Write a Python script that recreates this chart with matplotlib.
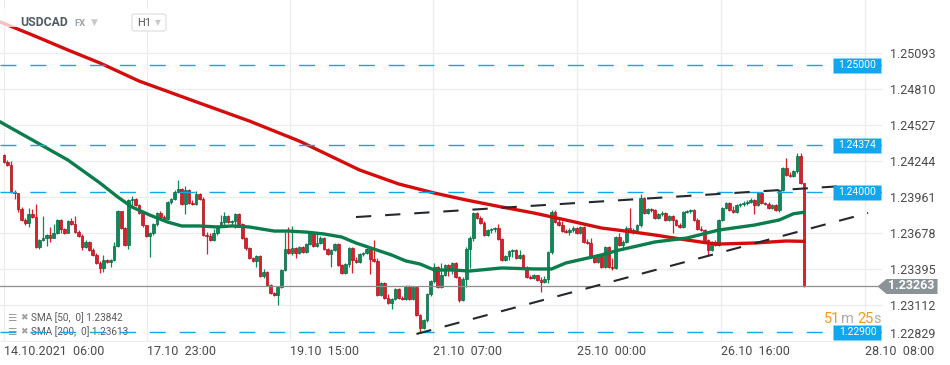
import matplotlib
matplotlib.use("Agg")
import matplotlib.pyplot as plt
from matplotlib.path import Path
import numpy as np

plt.rcParams['font.family'] = ['Roboto', 'DejaVu Sans']
plt.rcParams['lines.scale_dashes'] = False

symbol = "USDCAD"
timeframe = "H1"

# hourly candles, 14.10 06:00 -> 27.10
first_open = 1.24292
closes = [
    1.24237, 1.24213, 1.24001, 1.23993, 1.23867, 1.23781, 1.23757, 1.23828, 1.23804, 1.23569,
    1.23624, 1.23639, 1.23663, 1.23639, 1.23679, 1.23781, 1.23710, 1.23679, 1.23773, 1.23749,
    1.23686, 1.23655, 1.23569, 1.23608, 1.23545, 1.23506, 1.23443, 1.23404, 1.23466, 1.23451,
    1.23466, 1.23576, 1.23852, 1.23718, 1.23584, 1.23938, 1.23946, 1.23899, 1.23836, 1.23741,
    1.23655, 1.23679, 1.23749, 1.23836, 1.23804, 1.23789, 1.23922, 1.23946, 1.24001, 1.24024,
    1.23907, 1.24017, 1.23914, 1.23907, 1.23985, 1.23946, 1.23663, 1.23655, 1.23624, 1.23679,
    1.23734, 1.23765, 1.23812, 1.23765, 1.23773, 1.23828, 1.23749, 1.23639, 1.23561, 1.23482,
    1.23459, 1.23498, 1.23341, 1.23372, 1.23270, 1.23207, 1.23191, 1.23254, 1.23388, 1.23553,
    1.23521, 1.23561, 1.23521, 1.23569, 1.23529, 1.23592, 1.23679, 1.23576, 1.23600, 1.23639,
    1.23553, 1.23514, 1.23545, 1.23592, 1.23427, 1.23364, 1.23435, 1.23561, 1.23466, 1.23451,
    1.23514, 1.23521, 1.23553, 1.23474, 1.23459, 1.23191, 1.23286, 1.23168, 1.23128, 1.23160,
    1.23238, 1.23168, 1.23160, 1.23262, 1.23160, 1.23254, 1.23034, 1.22932, 1.22995, 1.23199,
    1.23301, 1.23411, 1.23254, 1.23349, 1.23427, 1.23388, 1.23443, 1.23333, 1.23152, 1.23317,
    1.23553, 1.23639, 1.23836, 1.23797, 1.23757, 1.23663, 1.23702, 1.23710, 1.23718, 1.23631,
    1.23466, 1.23498, 1.23537, 1.23545, 1.23482, 1.23506, 1.23404, 1.23333, 1.23325, 1.23349,
    1.23309, 1.23293, 1.23317, 1.23529, 1.23844, 1.23765, 1.23741, 1.23694, 1.23686, 1.23702,
    1.23718, 1.23679, 1.23726, 1.23608, 1.23600, 1.23498, 1.23451, 1.23498, 1.23411, 1.23569,
    1.23411, 1.23404, 1.23647, 1.23584, 1.23608, 1.23718, 1.23686, 1.23702, 1.23741, 1.23954,
    1.23836, 1.23867, 1.23859, 1.23797, 1.23828, 1.23836, 1.23781, 1.23812, 1.23781, 1.23741,
    1.23726, 1.23844, 1.23852, 1.23859, 1.23781, 1.23710, 1.23702, 1.23624, 1.23545, 1.23608,
    1.23584, 1.23781, 1.23875, 1.23914, 1.23859, 1.23844, 1.23899, 1.23907, 1.23914, 1.23922,
    1.23938, 1.23899, 1.23993, 1.23914, 1.23907, 1.23875, 1.23899, 1.23859, 1.24017, 1.24189,
    1.24134, 1.24127, 1.24166, 1.24284, 1.24072, 1.23263,
]
highs = [
    1.24300, 1.24252, 1.24245, 1.24017, 1.23993, 1.23883, 1.23797, 1.23875, 1.23867, 1.23907,
    1.23631, 1.23812, 1.23671, 1.23726, 1.23749, 1.23789, 1.23789, 1.23718, 1.23781, 1.23797,
    1.23812, 1.23702, 1.23671, 1.23624, 1.23616, 1.23561, 1.23521, 1.23459, 1.23506, 1.23474,
    1.23474, 1.23608, 1.23859, 1.23852, 1.23726, 1.23946, 1.23969, 1.23954, 1.23907, 1.23844,
    1.23741, 1.23686, 1.23757, 1.23844, 1.23852, 1.23820, 1.23930, 1.23954, 1.24017, 1.24095,
    1.24032, 1.24048, 1.24024, 1.23938, 1.24009, 1.23993, 1.23962, 1.23686, 1.23679, 1.23710,
    1.23741, 1.23820, 1.23844, 1.23820, 1.23781, 1.23836, 1.23836, 1.23757, 1.23647, 1.23565,
    1.23490, 1.23506, 1.23506, 1.23396, 1.23380, 1.23278, 1.23215, 1.23262, 1.23396, 1.23686,
    1.23726, 1.23734, 1.23569, 1.23576, 1.23576, 1.23600, 1.23694, 1.23686, 1.23679, 1.23655,
    1.23647, 1.23561, 1.23553, 1.23600, 1.23600, 1.23435, 1.23443, 1.23569, 1.23569, 1.23490,
    1.23521, 1.23529, 1.23561, 1.23561, 1.23624, 1.23482, 1.23293, 1.23293, 1.23199, 1.23168,
    1.23246, 1.23246, 1.23183, 1.23270, 1.23270, 1.23262, 1.23254, 1.23042, 1.23003, 1.23207,
    1.23309, 1.23443, 1.23419, 1.23443, 1.23435, 1.23435, 1.23451, 1.23451, 1.23341, 1.23333,
    1.23569, 1.23655, 1.23844, 1.23844, 1.23812, 1.23773, 1.23710, 1.23718, 1.23726, 1.23749,
    1.23639, 1.23506, 1.23545, 1.23553, 1.23553, 1.23545, 1.23514, 1.23419, 1.23349, 1.23356,
    1.23349, 1.23333, 1.23341, 1.23537, 1.23859, 1.23859, 1.23789, 1.23773, 1.23710, 1.23718,
    1.23734, 1.23726, 1.23734, 1.23734, 1.23631, 1.23639, 1.23506, 1.23514, 1.23506, 1.23576,
    1.23576, 1.23482, 1.23655, 1.23679, 1.23624, 1.23734, 1.23875, 1.23718, 1.23749, 1.23985,
    1.23962, 1.23875, 1.23875, 1.23867, 1.23836, 1.23852, 1.23844, 1.23820, 1.23820, 1.23789,
    1.23757, 1.23852, 1.23859, 1.23867, 1.23867, 1.23797, 1.23734, 1.23710, 1.23631, 1.23616,
    1.23624, 1.23789, 1.23883, 1.23922, 1.23922, 1.23891, 1.23907, 1.23914, 1.23930, 1.23938,
    1.23954, 1.23946, 1.24001, 1.24001, 1.23922, 1.23922, 1.23907, 1.23907, 1.24024, 1.24197,
    1.24268, 1.24158, 1.24174, 1.24307, 1.24307, 1.24072,
]
lows = [
    1.24229, 1.24205, 1.23993, 1.23946, 1.23844, 1.23773, 1.23741, 1.23726, 1.23797, 1.23561,
    1.23553, 1.23616, 1.23576, 1.23608, 1.23639, 1.23671, 1.23679, 1.23671, 1.23679, 1.23741,
    1.23679, 1.23647, 1.23545, 1.23561, 1.23537, 1.23498, 1.23435, 1.23364, 1.23372, 1.23443,
    1.23411, 1.23459, 1.23569, 1.23710, 1.23576, 1.23553, 1.23891, 1.23891, 1.23828, 1.23726,
    1.23647, 1.23490, 1.23663, 1.23734, 1.23797, 1.23781, 1.23781, 1.23907, 1.23938, 1.23993,
    1.23899, 1.23828, 1.23907, 1.23899, 1.23899, 1.23938, 1.23655, 1.23514, 1.23616, 1.23616,
    1.23663, 1.23726, 1.23741, 1.23757, 1.23734, 1.23718, 1.23741, 1.23631, 1.23545, 1.23474,
    1.23451, 1.23411, 1.23333, 1.23325, 1.23262, 1.23199, 1.23183, 1.23113, 1.23246, 1.23380,
    1.23514, 1.23506, 1.23482, 1.23514, 1.23521, 1.23521, 1.23584, 1.23569, 1.23569, 1.23592,
    1.23545, 1.23506, 1.23411, 1.23537, 1.23419, 1.23356, 1.23356, 1.23411, 1.23364, 1.23443,
    1.23443, 1.23498, 1.23514, 1.23356, 1.23451, 1.23183, 1.23183, 1.23160, 1.23121, 1.23081,
    1.23152, 1.23160, 1.23152, 1.23152, 1.23152, 1.23152, 1.23026, 1.22901, 1.22924, 1.22979,
    1.23183, 1.23286, 1.23246, 1.23246, 1.23341, 1.23341, 1.23356, 1.23325, 1.23136, 1.23144,
    1.23254, 1.23404, 1.23616, 1.23789, 1.23749, 1.23655, 1.23655, 1.23679, 1.23686, 1.23624,
    1.23459, 1.23459, 1.23466, 1.23490, 1.23474, 1.23474, 1.23396, 1.23325, 1.23317, 1.23317,
    1.23301, 1.23215, 1.23286, 1.23286, 1.23514, 1.23757, 1.23734, 1.23686, 1.23679, 1.23663,
    1.23686, 1.23671, 1.23671, 1.23600, 1.23592, 1.23490, 1.23443, 1.23443, 1.23404, 1.23404,
    1.23404, 1.23388, 1.23396, 1.23576, 1.23545, 1.23600, 1.23679, 1.23671, 1.23686, 1.23726,
    1.23828, 1.23828, 1.23844, 1.23789, 1.23789, 1.23812, 1.23773, 1.23773, 1.23679, 1.23734,
    1.23718, 1.23718, 1.23836, 1.23836, 1.23773, 1.23702, 1.23694, 1.23616, 1.23498, 1.23537,
    1.23576, 1.23576, 1.23773, 1.23867, 1.23852, 1.23836, 1.23836, 1.23883, 1.23891, 1.23899,
    1.23914, 1.23828, 1.23891, 1.23907, 1.23899, 1.23867, 1.23867, 1.23852, 1.23844, 1.24009,
    1.24127, 1.24119, 1.24119, 1.24150, 1.24064, 1.23254,
]
# each hourly bar opens where the previous one closed
opens = [first_open] + closes[:-1]

# moving averages at a few bar positions
sma50_bar = [-1, 3, 8, 18, 27, 32, 36, 41, 46, 50, 55, 60, 64, 69, 76, 80, 85, 90, 95, 99,
             104, 109, 113, 117, 121, 126, 131, 140, 149, 154, 158, 168, 173, 178, 183, 192,
             201, 211, 218, 222, 225]
sma50 = [1.24551, 1.24488, 1.24410, 1.24252, 1.24072, 1.23962, 1.23883, 1.23820, 1.23765,
         1.23734, 1.23734, 1.23726, 1.23734, 1.23726, 1.23694, 1.23694, 1.23686, 1.23671,
         1.23647, 1.23600, 1.23553, 1.23506, 1.23459, 1.23435, 1.23388, 1.23388, 1.23380,
         1.23404, 1.23396, 1.23396, 1.23443, 1.23506, 1.23545, 1.23576, 1.23608, 1.23639,
         1.23702, 1.23741, 1.23781, 1.23830, 1.23842]
sma200_bar = [-1, 8, 18, 27, 38, 55, 69, 83, 100, 111, 121, 130, 140, 149, 158, 168, 177,
              183, 192, 198, 201, 211, 220, 225]
sma200 = [1.25337, 1.25235, 1.25117, 1.25015, 1.24873, 1.24700, 1.24559, 1.24402, 1.24174,
          1.24064, 1.23993, 1.23938, 1.23883, 1.23836, 1.23781, 1.23718, 1.23686, 1.23663,
          1.23624, 1.23600, 1.23592, 1.23600, 1.23616, 1.23613]

levels = [1.25000, 1.24374, 1.24000, 1.22900]

upper_trend_bar = [99, 236]
upper_trend = [1.23804, 1.24048]
lower_trend_bar = [116, 243]
lower_trend = [1.22885, 1.23836]

ytick_vals = [1.25093, 1.24810, 1.24527, 1.24244, 1.23961, 1.23678, 1.23395, 1.23112, 1.22829]
xtick_pos = [0, 40.2, 80.4, 120.6, 161.1, 201.6, 242.1]
xtick_labels = ["14.10.2021  06:00", "17.10  23:00", "19.10  15:00", "21.10  07:00",
                "25.10  00:00", "26.10  16:00", "28.10  08:00"]

GREEN = '#0b8a58'
RED = '#d81f2a'
BLUE = '#12a6ec'

fig = plt.figure(figsize=(9.5, 3.65), dpi=100)
ax = fig.add_axes([0, 23 / 365, 882 / 950, 342 / 365])
ax.set_xlim(-1.1, 246.9)
ax.set_ylim(1.22822, 1.25510)
for s in ax.spines.values():
    s.set_visible(False)

# grid + axis labels
ax.set_yticks(ytick_vals)
ax.set_yticklabels([f"{v:.5f}" for v in ytick_vals])
ax.yaxis.tick_right()
ax.tick_params(axis='y', length=0, pad=6, labelsize=9, labelcolor='#4a4a4a')
ax.get_yticklabels()[-1].set_va('bottom')
ax.set_xticks(xtick_pos)
ax.set_xticklabels(xtick_labels, ha='left')
ax.tick_params(axis='x', length=0, pad=2, labelsize=9, labelcolor='#4a4a4a')
ax.grid(True, color='#ededed', lw=0.9)
ax.set_axisbelow(True)

# candles
idx = np.arange(len(closes))
o = np.array(opens)
c = np.array(closes)
h = np.array(highs)
l = np.array(lows)
rising = c >= o
body_col = np.where(rising, GREEN, RED)
edge_col = np.where(rising, '#086a43', '#a8121c')
ax.vlines(idx, l, h, colors=body_col, lw=0.9, zorder=2)
ax.bar(idx, np.maximum(np.abs(c - o), 0.00002), bottom=np.minimum(o, c), width=0.75,
       color=body_col, edgecolor=edge_col, linewidth=0.5, zorder=3)

# current price line
ax.axhline(closes[-1], color='#8f8f8f', lw=0.9, zorder=3.5)

# moving averages
ax.plot(sma200_bar, sma200, color='#d40c0c', lw=2.4, zorder=5, solid_joinstyle='round')
ax.plot(sma50_bar, sma50, color='#0b7d4c', lw=2.4, zorder=5, solid_joinstyle='round')

# horizontal levels
for lv in levels:
    ax.axhline(lv, color=BLUE, lw=1.0, ls=(0, (11.5, 10)), zorder=6)

# trend lines
ax.plot(upper_trend_bar, upper_trend, color='#25292d', lw=1.5, ls=(0, (11, 10)), zorder=7)
ax.plot(lower_trend_bar, lower_trend, color='#25292d', lw=1.5, ls=(0, (11, 10)), zorder=7)

# level labels
rect = Path([(-24, -7.5), (24, -7.5), (24, 7.5), (-24, 7.5), (-24, -7.5)], closed=True)
box_x = 240
ax.plot([box_x] * len(levels), levels, ls='none', marker=rect, markersize=48 * 0.72,
        color=BLUE, mec='none', zorder=8, clip_on=False)
for lv in levels:
    ax.text(box_x, lv, f"{lv:.5f}", color='white', fontsize=7.5, ha='center', va='center', zorder=9)

# last price tag
pent = Path([(-30, 0), (-21, 7.5), (30, 7.5), (30, -7.5), (-21, -7.5), (-30, 0)], closed=True)
ax.plot([253.9], [closes[-1]], ls='none', marker=pent, markersize=60 * 0.72,
        color='#8a9398', mec='none', zorder=8, clip_on=False)
ax.text(255.2, closes[-1], f"{closes[-1]:.5f}", color='white', fontsize=9, fontweight='bold',
        ha='center', va='center', zorder=9, clip_on=False)

# candle countdown
ax.text(824 / 882, 1 - 319 / 342, "51", transform=ax.transAxes, color='#f39a1e',
        fontsize=10.5, ha='left', va='center', zorder=9)
ax.text(841 / 882, 1 - 319 / 342, "m", transform=ax.transAxes, color='#ababab',
        fontsize=10.5, ha='left', va='center', zorder=9)
ax.text(857 / 882, 1 - 319 / 342, "25", transform=ax.transAxes, color='#f39a1e',
        fontsize=10.5, ha='left', va='center', zorder=9)
ax.text(873 / 882, 1 - 319 / 342, "s", transform=ax.transAxes, color='#ababab',
        fontsize=10.5, ha='left', va='center', zorder=9)

# indicator legend
for row_y, name, vals in [(318, "SMA [50,  0]", sma50), (332, "SMA [200,  0]", sma200)]:
    fy = 1 - row_y / 342
    ax.text(7 / 882, fy, "☰", transform=ax.transAxes, color='#9a9a9a', fontsize=7.5,
            family=['DejaVu Sans'], ha='left', va='center', zorder=1)
    ax.text(20 / 882, fy, "✖", transform=ax.transAxes, color='#a0a0a0', fontsize=6.5,
            family=['DejaVu Sans'], ha='left', va='center', zorder=1)
    ax.text(31 / 882, fy, f"{name} {vals[-1]:.5f}", transform=ax.transAxes, color='#5a5a5a',
            fontsize=7.2, ha='left', va='center', zorder=1)

# header (semi-transparent backdrop over the chart, like the platform toolbar)
fig.patches.append(matplotlib.patches.Rectangle(
    (0, 1 - 27 / 365), 175 / 950, 19 / 365, transform=fig.transFigure,
    fc='white', ec='none', alpha=0.75))
fig.text(20 / 950, 1 - 23 / 365, symbol, color='#4f5b66', fontsize=8.8, fontweight='bold',
         ha='left', va='center')
fig.text(74 / 950, 1 - 24 / 365, "FX", color='#9aa5ad', fontsize=6.8, fontweight='bold',
         ha='left', va='center')
fig.text(91 / 950, 1 - 22 / 365, "▼", color='#c5cacf', fontsize=6.5, family=['DejaVu Sans'],
         ha='left', va='center')
fig.patches.append(matplotlib.patches.FancyBboxPatch(
    (132 / 950, 1 - 31 / 365), 34 / 950, 17 / 365, boxstyle='round,pad=0,rounding_size=0.004',
    transform=fig.transFigure, fc='white', ec='#dcdcdc', lw=0.8))
fig.text(137 / 950, 1 - 23 / 365, timeframe, color='#555555', fontsize=8, ha='left', va='center')
fig.text(155 / 950, 1 - 23 / 365, "▼", color='#c5cacf', fontsize=5.5, family=['DejaVu Sans'],
         ha='left', va='center')

fig.savefig("out.png", dpi=100)
